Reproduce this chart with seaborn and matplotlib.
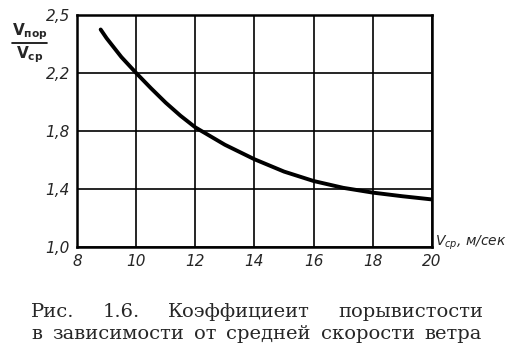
import matplotlib
matplotlib.use("Agg")
import matplotlib.pyplot as plt
import seaborn as sns
import pandas as pd

# data
wind_speed = [8.8, 9.0, 9.5, 10.0, 10.5, 11.0, 11.5, 12.0, 13.0, 14.0, 15.0, 16.0, 17.0, 18.0, 19.0, 20.0]
gust_coef = [2.50, 2.44, 2.31, 2.20, 2.095, 1.995, 1.905, 1.825, 1.705, 1.605, 1.52, 1.455, 1.408, 1.375, 1.35, 1.328]
x_ticks = [8, 10, 12, 14, 16, 18, 20]
y_tick_pos = [1.0, 1.4, 1.8, 2.2, 2.6]
y_tick_labels = ["1,0", "1,4", "1,8", "2,2", "2,5"]
caption_line1 = ["Рис.", "1.6.", "Коэффициеит", "порывистости"]
caption_line2 = ["в", "зависимости", "от", "средней", "скорости", "ветра"]

df = pd.DataFrame({"v": wind_speed, "k": gust_coef})

sns.set_style("white")
plt.rcParams["font.family"] = ["DejaVu Sans"]
plt.rcParams["mathtext.fontset"] = "dejavusans"

W, H = 515, 355
fig = plt.figure(figsize=(W / 100, H / 100), dpi=100)
ax = fig.add_axes([77 / W, 1 - 247 / H, (432 - 77) / W, (247 - 15) / H])

sns.lineplot(data=df, x="v", y="k", ax=ax, color="black", linewidth=2.8, legend=False,
             solid_capstyle="round", solid_joinstyle="round")

ax.set_xlim(8, 20)
ax.set_ylim(1.0, 2.6)
ax.set_xticks(x_ticks)
ax.set_xticklabels([str(t) for t in x_ticks], fontstyle="italic", fontsize=11)
ax.set_yticks(y_tick_pos)
ax.set_yticklabels(y_tick_labels, fontstyle="italic", fontsize=11)
ax.tick_params(axis="both", length=0, pad=5)
ax.grid(True, color="black", linewidth=1.2)
for s in ax.spines.values():
    s.set_visible(True)
    s.set_color("black")
    s.set_linewidth(1.8)
ax.set_xlabel("")
ax.set_ylabel("")

# axis titles
fig.text(435 / W, 1 - 243 / H, r"$V_{ср}$, м/сек", fontsize=10, fontstyle="italic",
         ha="left", va="center")
fig.text(30 / W, 1 - 32 / H, r"$\mathbf{V_{пор}}$", fontsize=11, ha="center", va="center")
fig.lines.append(plt.Line2D([12 / W, 47 / W], [1 - 43 / H, 1 - 43 / H],
                            transform=fig.transFigure, color="black", linewidth=1.2))
fig.text(30 / W, 1 - 55 / H, r"$\mathbf{V_{ср}}$", fontsize=11, ha="center", va="center")

# caption, justified between the left and right margins as in the original
renderer = fig.canvas.get_renderer()


def justified(words, y_px, left_px=31, right_px=483, size=14):
    texts = [fig.text(0, 1 - y_px / H, w, fontsize=size, family="DejaVu Serif",
                      ha="left", va="baseline") for w in words]
    widths = [t.get_window_extent(renderer).width for t in texts]
    gap = (right_px - left_px - sum(widths)) / (len(words) - 1)
    x = left_px
    for t, wd in zip(texts, widths):
        t.set_x(x / W)
        x += wd + gap


justified(caption_line1, 317)
justified(caption_line2, 339, right_px=482)

fig.savefig("out.png", dpi=100, facecolor="white")
